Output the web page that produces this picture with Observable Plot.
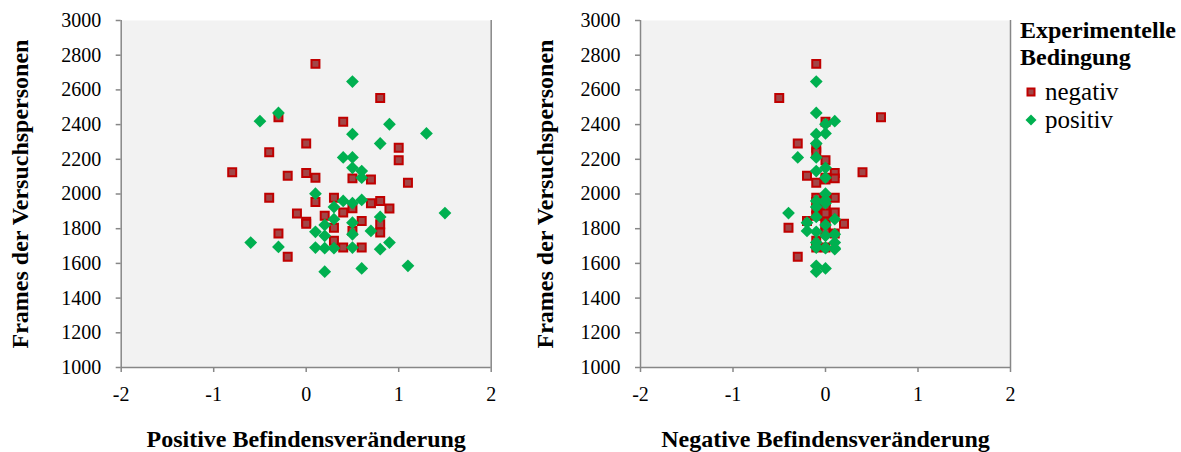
<!DOCTYPE html>
<html>
<head>
<meta charset="utf-8">
<script src="https://cdn.jsdelivr.net/npm/d3@7"></script>
<script src="https://cdn.jsdelivr.net/npm/@observablehq/plot@0.6"></script>
<style>
  html, body { margin: 0; padding: 0; background: #ffffff; }
  #chart { position: relative; width: 1181px; height: 452px; font-family: "Liberation Serif", "Times New Roman", serif; color: #000; }
  #left { position: absolute; left: 0; top: 0; }
  #right { position: absolute; left: 525px; top: 0; }
  #legend { position: absolute; left: 1020px; top: 17px; }
  #legend .title { font-weight: bold; font-size: 24px; line-height: 27px; }
  #legend .item { position: relative; font-size: 25px; line-height: 28px; padding-left: 25px; white-space: nowrap; }
  #legend .item svg { position: absolute; left: 3px; top: 6px; }
</style>
</head>
<body>
<div id="chart">
  <div id="left"></div>
  <div id="right"></div>
  <div id="legend"></div>
</div>
<script>
// ---- data ----
const groups = ["negativ", "positiv"];
const legendTitle = ["Experimentelle", "Bedingung"];
const yTitle = "Frames der Versuchspersonen";
const xTitles = ["Positive Befindensveränderung", "Negative Befindensveränderung"];
const xTicks = [-2, -1, 0, 1, 2];
const yTicks = [1000, 1200, 1400, 1600, 1800, 2000, 2200, 2400, 2600, 2800, 3000];

// group "negativ"
const frames_negativ = [2750, 2553, 2443, 2416, 2291, 2266, 2240, 2195, 2125, 2121, 2105, 2094, 2090, 2084, 2065, 1979, 1979, 1960, 1954, 1947, 1918, 1916, 1893, 1887, 1874, 1845, 1840, 1828, 1826, 1806, 1787, 1778, 1772, 1730, 1691, 1691, 1638];
const posChange_negativ = [0.1, 0.8, -0.3, 0.4, 0.0, 1.0, -0.4, 1.0, -0.8, 0.0, -0.2, 0.1, 0.5, 0.7, 1.1, -0.4, 0.3, 0.8, 0.1, 0.7, 0.5, 0.9, 0.4, -0.1, 0.2, 0.6, 0.0, 0.0, 0.8, 0.3, 0.5, 0.8, -0.3, 0.3, 0.4, 0.6, -0.2];
const negChange_negativ = [-0.1, -0.5, 0.6, 0.0, -0.3, -0.1, -0.1, 0.0, 0.4, 0.1, -0.2, 0.0, 0.1, 0.0, -0.1, -0.1, 0.1, 0.0, -0.1, 0.0, 0.0, -0.1, 0.1, 0.0, -0.1, -0.2, 0.0, 0.2, 0.0, -0.4, 0.0, 0.0, 0.1, -0.1, -0.1, 0.0, -0.3];

// group "positiv"
const frames_positiv = [2648, 2467, 2420, 2402, 2349, 2345, 2291, 2211, 2211, 2151, 2132, 2094, 2002, 1966, 1960, 1947, 1925, 1890, 1868, 1855, 1835, 1822, 1787, 1782, 1768, 1759, 1720, 1720, 1695, 1691, 1691, 1688, 1688, 1682, 1586, 1571, 1552];
const posChange_positiv = [0.5, -0.3, -0.5, 0.9, 1.3, 0.5, 0.8, 0.4, 0.5, 0.5, 0.6, 0.6, 0.1, 0.6, 0.4, 0.5, 0.3, 1.5, 0.8, 0.3, 0.5, 0.2, 0.7, 0.1, 0.5, 0.2, 0.9, -0.6, -0.3, 0.1, 0.5, 0.2, 0.3, 0.8, 1.1, 0.6, 0.2];
const negChange_positiv = [-0.1, -0.1, 0.1, 0.0, 0.0, -0.1, -0.1, -0.3, -0.1, 0.0, -0.1, 0.0, 0.0, 0.0, -0.1, 0.0, -0.1, -0.4, -0.1, 0.1, -0.2, 0.0, -0.2, -0.1, 0.1, 0.0, -0.1, 0.1, -0.1, -0.1, 0.0, 0.0, 0.1, 0.1, -0.1, 0.0, -0.1];

// ---- build rows ----
const rowsNeg = frames_negativ.map((f, i) => ({group: groups[0], frames: f, pos: posChange_negativ[i], neg: negChange_negativ[i]}));
const rowsPos = frames_positiv.map((f, i) => ({group: groups[1], frames: f, pos: posChange_positiv[i], neg: negChange_positiv[i]}));

// ---- styles ----
const axisGray = "#878787";
const redFill = "#a24647", redStroke = "#c00000", green = "#00b050";
const squareSym = { draw(ctx, size) { const h = Math.sqrt(size) / 2; ctx.moveTo(-h, -h); ctx.lineTo(h, -h); ctx.lineTo(h, h); ctx.lineTo(-h, h); ctx.closePath(); } };
const diamondSym = { draw(ctx, size) { const h = Math.sqrt(size / 2); ctx.moveTo(0, -h); ctx.lineTo(h, 0); ctx.lineTo(0, h); ctx.lineTo(-h, 0); ctx.closePath(); } };

function panel(field, xTitle, width, mL, mR) {
  return Plot.plot({
    width, height: 452,
    marginTop: 20, marginBottom: 85, marginLeft: mL, marginRight: mR,
    style: {fontFamily: "Liberation Serif", fontSize: "20px", color: "#000", background: "transparent", overflow: "visible"},
    x: {domain: [-2, 2]},
    y: {domain: [1000, 3000]},
    marks: [
      Plot.frame({fill: "#f2f2f2", stroke: "none"}),
      Plot.ruleX([-2, 2], {stroke: axisGray, strokeWidth: 1.5}),
      Plot.ruleY([1000], {stroke: axisGray, strokeWidth: 1.5}),
      Plot.axisX({ticks: xTicks, tickFormat: d => String(d), tickSize: 5, tickPadding: 14, stroke: axisGray, strokeWidth: 1.5, label: null}),
      Plot.axisX({ticks: [], label: xTitle, labelArrow: "none", labelAnchor: "center", labelOffset: 79, fontSize: 24, fontWeight: "bold"}),
      Plot.axisY({ticks: yTicks, tickFormat: d => String(d), tickSize: 5, tickPadding: 15, stroke: axisGray, strokeWidth: 1.5, label: null}),
      Plot.axisY({ticks: [], label: yTitle, labelArrow: "none", labelAnchor: "center", labelOffset: mL - 10, fontSize: 24, fontWeight: "bold"}),
      Plot.dot(rowsNeg, {x: field, y: "frames", symbol: squareSym, r: 4.5, fill: redFill, stroke: redStroke, strokeWidth: 2}),
      Plot.dot(rowsPos, {x: field, y: "frames", symbol: diamondSym, r: 5.1, fill: green, stroke: "none"})
    ]
  });
}

document.getElementById("left").append(panel("pos", xTitles[0], 525, 120.7, 34.3));
document.getElementById("right").append(panel("neg", xTitles[1], 495, 115, 10));

// ---- legend ----
const lg = document.getElementById("legend");
const t = document.createElement("div");
t.className = "title";
t.innerHTML = legendTitle.join("<br>");
lg.append(t);
const spacer = document.createElement("div");
spacer.style.height = "7px";
lg.append(spacer);
const markers = [
  `<svg width="16" height="16"><rect x="4.5" y="4.5" width="7" height="7" fill="${redFill}" stroke="${redStroke}" stroke-width="2"/></svg>`,
  `<svg width="16" height="16"><path d="M8,2.5L13.5,8L8,13.5L2.5,8Z" fill="${green}"/></svg>`
];
groups.forEach((g, i) => {
  const d = document.createElement("div");
  d.className = "item";
  d.innerHTML = markers[i];
  d.append(document.createTextNode(g));
  lg.append(d);
});
</script>
</body>
</html>
